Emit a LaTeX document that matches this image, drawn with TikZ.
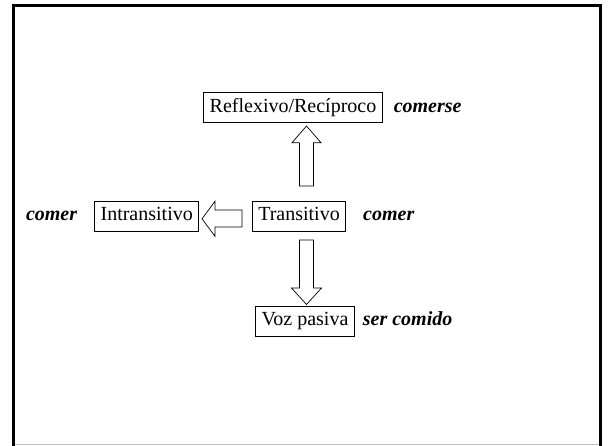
\documentclass[tikz,border=0pt]{standalone}
\usepackage{fontspec}
\setmainfont{Liberation Serif}
\begin{document}
\begin{tikzpicture}[x=1pt,y=-1pt,
  box/.style={draw=black, line width=0.9pt, inner xsep=5.8pt, inner ysep=0pt,
    minimum height=30pt, text height=13.5pt, text depth=4.5pt, font=\fontsize{20}{24}\selectfont},
  lbl/.style={inner sep=0pt, font=\fontsize{20}{24}\selectfont\bfseries\itshape},
  hollow/.style={draw=black, line width=0.7pt, fill=white, line join=miter}]
\useasboundingbox (0,0) rectangle (609,445);
% frame
\draw[line width=3pt, line cap=butt] (13.5,446) -- (13.5,5.8) -- (600.8,5.8) -- (600.8,446);
\draw[line width=1.2pt, black!25] (15,444.4) -- (599.3,444.4);
% boxes
\node[box] (R) at (293,107.7) {Reflexivo/Recíproco};
\node[box] (I) at (146.7,216) {Intransitivo};
\node[box] (T) at (299,216) {Transitivo};
\node[box] (V) at (305,321) {Voz pasiva};
% labels
\node[lbl, anchor=base west] (lR) at ([xshift=11pt]R.base east) {comerse};
\node[lbl, anchor=base west] (lT) at ([xshift=17pt]T.base east) {comer};
\node[lbl, anchor=base east] (lI) at ([xshift=-17pt]I.base west) {comer};
\node[lbl, anchor=base west] (lV) at ([xshift=8pt]V.base east) {ser comido};
% arrows (block arrows between boxes)
\coordinate (upc) at (306.5,0);
\draw[hollow] (306.5,126) -- (321,142.7) -- (313.5,142.7) -- (313.5,186)
  -- (299.5,186) -- (299.5,142.7) -- (292,142.7) -- cycle;
\draw[hollow] (306.5,304.5) -- (321.5,288) -- (313.5,288) -- (313.5,240)
  -- (299.5,240) -- (299.5,288) -- (291.5,288) -- cycle;
\draw[hollow] (202,218.8) -- (215,201.3) -- (215,210) -- (242,210)
  -- (242,227) -- (215,227) -- (215,236.3) -- cycle;
\end{tikzpicture}
\end{document}
